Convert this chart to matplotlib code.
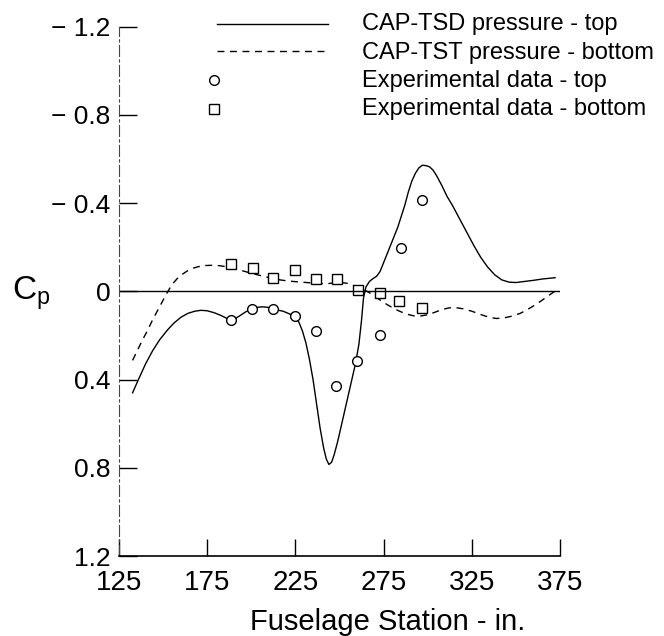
import matplotlib
matplotlib.use("Agg")
import matplotlib.pyplot as plt
from matplotlib.lines import Line2D

plt.rcParams['font.family'] = ['Liberation Sans', 'DejaVu Sans']

# CAP-TSD pressure - top (solid)
top_x = [132.7, 136, 140, 144, 148, 152.5, 156, 160, 164, 168, 171.4, 175, 179, 183,
         186, 188.3, 191, 194, 197, 200.6, 203, 206, 209, 212.3, 215, 218, 221, 224.7,
         227, 229, 231, 233, 235, 237, 239, 241, 242.5, 244, 245.5, 247, 249, 251, 253,
         255, 257, 259, 261, 262.5, 263.6, 265, 267, 269, 271, 273, 275, 277, 279, 281,
         283, 285, 287, 289, 291, 293, 295, 297, 299, 301, 303, 305, 308, 311, 314, 318,
         322, 326, 330, 334, 338, 342, 346, 350, 355, 360, 365, 372.2]
top_cp = [0.46, 0.40, 0.33, 0.27, 0.22, 0.175, 0.145, 0.118, 0.10, 0.09, 0.086, 0.088,
          0.097, 0.11, 0.122, 0.128, 0.123, 0.108, 0.092, 0.08, 0.073, 0.07, 0.072, 0.08,
          0.085, 0.09, 0.10, 0.113, 0.14, 0.18, 0.235, 0.31, 0.40, 0.51, 0.62, 0.71,
          0.76, 0.785, 0.775, 0.74, 0.68, 0.61, 0.54, 0.47, 0.40, 0.33, 0.24, 0.13, 0.03,
          -0.02, -0.045, -0.058, -0.068, -0.09, -0.13, -0.17, -0.21, -0.25, -0.29, -0.34,
          -0.39, -0.45, -0.50, -0.535, -0.56, -0.572, -0.57, -0.565, -0.55, -0.525, -0.48,
          -0.43, -0.39, -0.33, -0.27, -0.21, -0.155, -0.11, -0.075, -0.052, -0.042,
          -0.04, -0.045, -0.05, -0.056, -0.062]

# CAP-TST pressure - bottom (dashed)
bot_x = [132.7, 135, 138, 141, 144, 147, 150, 152.5, 155, 158, 161, 164, 167, 170, 174,
         177, 181, 185, 188.3, 192, 196, 200, 204, 208, 212.8, 217, 222, 227.9, 233, 238,
         243, 247, 250.6, 254, 257, 260, 263, 265.7, 268, 271, 274, 277, 280, 284, 288,
         292, 296, 300, 304, 308, 312, 316, 320, 325, 330, 335, 339, 343, 348, 352.4,
         356, 360, 364, 368, 372]
bot_cp = [0.313, 0.275, 0.225, 0.18, 0.13, 0.085, 0.04, 0.003, -0.03, -0.058, -0.078,
          -0.094, -0.105, -0.112, -0.117, -0.118, -0.117, -0.113, -0.107, -0.10, -0.091,
          -0.082, -0.074, -0.066, -0.057, -0.051, -0.046, -0.042, -0.039, -0.036, -0.035,
          -0.038, -0.04, -0.037, -0.03, -0.02, -0.008, 0.0, 0.012, 0.028, 0.045, 0.06,
          0.074, 0.09, 0.103, 0.111, 0.112, 0.106, 0.095, 0.083, 0.075, 0.074, 0.079,
          0.09, 0.105, 0.118, 0.123, 0.121, 0.112, 0.10, 0.085, 0.066, 0.045, 0.022, 0.0]

# experimental data
exp_top_x = [188.3, 200.6, 212.3, 224.7, 236.6, 248.0, 260.2, 272.8, 284.9, 296.9]
exp_top_cp = [0.128, 0.079, 0.082, 0.113, 0.182, 0.428, 0.317, 0.2, -0.197, -0.416]
exp_bot_x = [188.7, 200.8, 212.5, 224.7, 236.8, 248.7, 260.4, 272.8, 284.0, 296.5]
exp_bot_cp = [-0.122, -0.107, -0.062, -0.098, -0.057, -0.057, -0.008, 0.006, 0.045, 0.075]

x_ticks = [125, 175, 225, 275, 325, 375]
y_ticks = [-1.2, -0.8, -0.4, 0, 0.4, 0.8, 1.2]
y_ticklabels = ['\u2212 1.2', '\u2212 0.8', '\u2212 0.4', '0', '0.4', '0.8', '1.2']
legend_labels = ['CAP-TSD pressure - top', 'CAP-TST pressure - bottom',
                 'Experimental data - top', 'Experimental data - bottom']

W, H = 664, 636
fig = plt.figure(figsize=(W / 100, H / 100), dpi=100)
ax = fig.add_axes([119 / W, 1 - 556 / H, 441 / W, 529.3 / H])


def fx(px):
    return px / W


def fy(py):
    return 1 - py / H


ax.plot(top_x, top_cp, color='black', lw=1.0)
ax.plot(bot_x, bot_cp, color='black', lw=1.0, linestyle=(0, (5, 4)))
ax.plot(exp_top_x, exp_top_cp, 'o', ms=7, mfc='white', mec='black', mew=1.0)
ax.plot(exp_bot_x, exp_bot_cp, 's', ms=6.5, mfc='white', mec='black', mew=1.0)
ax.axhline(0, color='black', lw=1.0)

ax.set_xlim(125, 375)
ax.set_ylim(1.2, -1.2)
ax.set_xticks(x_ticks)
ax.set_xticklabels([str(v) for v in x_ticks])
ax.set_yticks(y_ticks)
ax.set_yticklabels(y_ticklabels)

ax.spines['top'].set_visible(False)
ax.spines['right'].set_visible(False)
ax.spines['left'].set_linestyle((0, (10, 3, 2, 3)))
ax.spines['left'].set_color('#444444')
ax.spines['bottom'].set_linewidth(1.2)
ax.tick_params(axis='x', direction='in', length=12, width=1, pad=10, labelsize=20)
ax.tick_params(axis='y', direction='in', length=13, width=1, pad=6, labelsize=19)

# legend drawn by hand above the axes
fig.add_artist(Line2D([fx(217), fx(328)], [fy(24), fy(24)], color='black', lw=1.0,
                      transform=fig.transFigure))
fig.add_artist(Line2D([fx(217), fx(328)], [fy(51), fy(51)], color='black', lw=1.0,
                      linestyle=(0, (5, 4)), transform=fig.transFigure))
fig.add_artist(Line2D([fx(214)], [fy(80)], marker='o', ms=7, mfc='white', mec='black',
                      mew=1.0, transform=fig.transFigure))
fig.add_artist(Line2D([fx(214)], [fy(109)], marker='s', ms=6.5, mfc='white', mec='black',
                      mew=1.0, transform=fig.transFigure))
for i, lab in enumerate(legend_labels):
    fig.text(fx(362), fy(24 + 28.5 * i), lab, fontsize=17, ha='left', va='center')

fig.text(fx(12), fy(293), r'$\mathregular{C_p}$', fontsize=24, ha='left', va='center')
fig.text(fx(388), fy(622), 'Fuselage Station - in.', fontsize=21, ha='center',
         va='center')

fig.savefig('out.png', dpi=100)
